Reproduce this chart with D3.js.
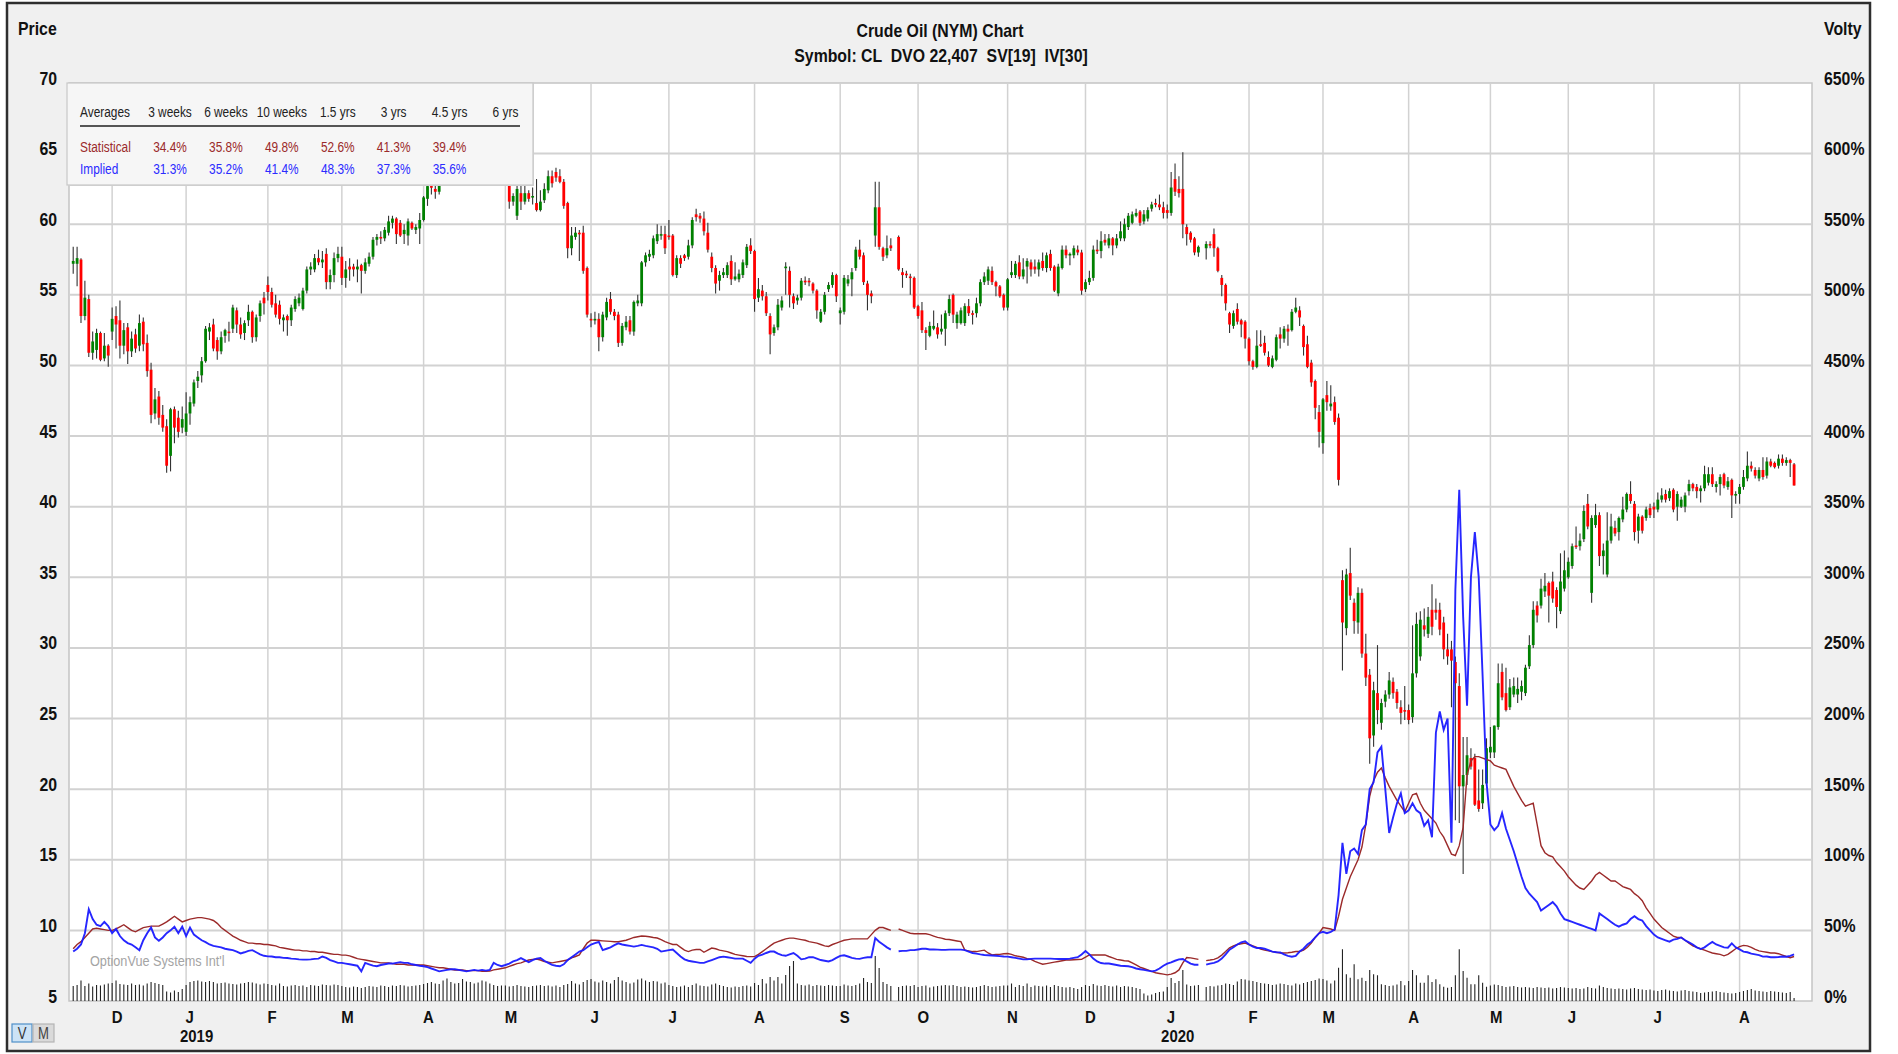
<!DOCTYPE html>
<html>
<head>
<meta charset='utf-8'>
<script src="https://cdnjs.cloudflare.com/ajax/libs/d3/7.8.5/d3.min.js"></script>
<style>
body { margin:0; background:#fff; }
svg text { font-family: "Liberation Sans", Arial, sans-serif; }
</style>
</head>
<body>
<script>

// trading days from 16 Nov 2018 to 21 Aug 2020, one value per day (null = missing day)
var opens = [
	57.2,57.2,57.5,53.5,54.7,50.9,51.1,52.3,50.5,51.4,
	52.4,53.5,53.2,51.4,52.7,51.0,52.2,51.4,53.1,51.6,49.7,46.6,47.8,46.5,45.7,43.6,46.9,46.3,45.6,
	45.3,46.6,47.3,48.9,49.3,50.3,52.4,52.9,51.8,51.0,52.1,52.4,52.6,53.9,52.9,52.3,53.2,53.8,52.0,53.5,54.8,
	55.7,55.2,54.4,54.3,53.2,53.5,53.2,54.0,54.4,54.0,55.3,56.8,56.8,57.6,57.3,57.9,55.9,56.4,57.6,
	57.7,56.2,57.0,57.0,56.8,57.1,56.7,57.2,57.7,58.9,59.1,59.0,59.4,60.1,60.4,60.1,59.3,59.2,60.1,59.6,59.7,
	60.3,61.8,62.7,62.5,62.3,63.4,64.6,64.5,64.8,63.8,64.1,63.6,64.3,64.0,64.3,65.8,66.5,66.1,65.4,63.4,63.7,
	63.9,62.8,61.6,60.6,62.2,61.6,62.2,61.9,61.5,61.0,61.7,62.4,63.4,63.7,63.4,63.0,61.5,58.3,59.1,59.4,59.4,56.9,
	53.3,53.2,53.3,52.0,53.4,54.7,53.8,53.6,51.6,52.7,53.2,52.4,54.4,54.4,57.3,57.7,57.8,58.8,59.2,59.3,
	59.2,59.2,56.4,57.6,57.8,57.7,58.5,60.7,60.6,60.4,59.4,57.7,56.9,56.0,56.4,56.4,57.4,56.1,56.1,56.4,57.1,58.5,
	58.1,54.8,55.3,54.9,53.5,52.3,52.7,54.1,56.9,56.7,54.9,54.6,54.8,56.0,56.0,55.8,55.3,53.1,53.8,55.4,55.7,56.4,
	53.7,53.8,55.8,56.1,56.9,58.2,57.8,55.8,55.1,59.2,61.2,58.3,57.8,58.5,null,59.1,56.6,56.5,56.3,56.2,
	54.2,53.9,52.5,52.1,52.6,52.7,52.4,52.6,53.7,55.0,53.0,53.0,53.0,54.2,53.7,53.7,54.4,55.9,56.0,56.7,55.9,55.6,55.0,
	54.1,56.4,56.4,57.3,56.3,57.0,57.3,57.0,56.8,57.4,56.9,57.9,57.0,55.1,56.9,58.2,57.8,57.8,58.2,58.0,
	55.4,55.9,56.2,58.2,58.1,58.9,58.5,59.0,58.5,59.0,59.0,59.8,60.1,60.6,60.9,60.2,60.4,61.1,61.5,61.4,61.2,
	61.0,60.8,63.2,62.5,62.5,59.8,59.4,59.0,58.0,null,58.3,58.6,59.3,58.3,56.2,55.7,53.7,52.8,54.0,53.2,53.1,
	51.9,50.3,49.9,51.5,51.6,50.6,49.9,50.4,52.2,51.9,52.6,52.5,53.8,53.9,52.8,51.5,50.2,48.9,46.7,
	44.5,47.9,47.1,47.4,46.3,34.8,31.4,35.3,33.2,31.8,33.9,29.6,28.1,23.8,26.8,24.7,26.2,26.7,27.6,26.9,25.8,25.6,
	25.6,25.1,28.2,29.4,31.6,31.0,32.7,32.7,32.7,31.8,29.9,29.9,29.0,27.3,20.2,21.0,22.2,22.2,19.2,19.0,20.4,
	22.6,22.6,24.4,28.3,26.8,25.8,26.7,26.7,26.9,26.8,28.7,30.2,33.0,33.0,34.0,34.6,34.7,34.1,32.6,34.2,
	35.0,35.8,37.25,37.2,37.7,40.2,33.9,38.7,39.4,36.5,35.2,37.6,38.5,38.2,39.1,39.8,40.9,40.2,38.3,39.3,39.2,39.9,
	40.0,39.8,40.5,40.9,40.6,41.2,40.0,40.0,40.0,41.1,41.6,41.4,41.1,41.3,41.7,42.3,41.4,41.6,42.3,41.4,41.9,40.8,
	40.9,41.4,42.0,42.9,42.6,42.0,42.6,42.2,43.2,43.1,42.9,43.4,43.1,43.3,43.0
];
var highs = [
	58.4,58.4,57.6,56.0,55.0,52.4,52.6,52.4,52.3,51.5,
	54.1,54.2,54.6,53.0,53.0,52.4,52.6,53.6,53.4,52.2,50.2,48.4,48.2,47.2,46.2,47.0,47.1,46.8,47.1,
	48.1,47.8,49.0,49.6,50.6,52.8,53.0,53.3,52.0,52.4,52.6,53.1,54.3,54.1,53.4,53.2,54.3,53.9,53.6,54.6,55.2,
	56.3,55.5,55.0,54.6,53.6,53.6,54.3,54.9,55.1,55.5,57.0,57.3,57.9,58.2,58.1,58.3,56.8,58.0,58.4,
	58.4,57.4,57.6,57.2,57.5,57.2,57.6,58.0,59.1,59.3,59.5,59.8,60.6,60.6,60.5,60.3,60.0,60.4,60.2,60.0,60.8,
	62.0,62.9,63.1,62.9,63.6,64.8,64.9,65.0,64.9,64.4,64.3,64.4,64.8,64.5,66.0,66.9,66.7,66.5,65.6,64.1,64.4,
	64.5,63.0,62.2,62.8,62.8,62.7,62.4,62.6,63.2,62.4,62.9,63.8,63.8,64.0,63.9,63.2,61.6,59.8,59.8,59.6,59.9,57.0,
	53.7,53.8,53.7,53.8,54.8,55.2,54.0,53.8,53.0,53.5,53.5,54.6,55.0,57.4,58.0,58.2,59.2,60.0,59.9,59.9,
	60.3,59.3,57.8,57.8,57.9,58.9,60.5,61.1,60.8,60.9,60.1,58.0,57.1,56.7,56.9,57.3,57.8,57.3,56.8,57.5,58.6,59.0,
	58.2,56.2,55.7,55.2,53.7,52.9,54.7,54.9,57.3,57.0,55.1,55.0,56.2,56.3,56.2,55.9,55.4,54.0,55.2,55.9,56.6,56.5,
	54.1,56.4,56.4,56.9,58.4,58.9,58.0,56.0,55.3,63.0,63.0,58.4,59.2,59.0,null,59.2,56.9,56.7,56.5,56.3,
	54.3,54.5,52.7,53.1,53.9,53.0,53.6,53.9,55.0,55.1,53.8,54.1,54.4,54.7,53.9,54.8,56.1,56.6,57.0,57.0,56.0,55.7,55.1,
	56.2,57.4,57.4,57.8,57.6,57.6,57.5,57.5,57.5,58.0,58.0,58.2,57.1,57.2,58.5,58.5,58.0,58.5,58.5,58.2,
	56.1,56.7,58.5,58.9,59.5,59.3,59.3,59.1,59.3,60.2,60.4,60.8,60.9,61.1,61.0,61.0,61.2,61.6,61.8,62.1,61.6,
	61.4,63.7,64.3,63.4,65.1,60.0,59.5,59.1,58.5,null,58.8,58.8,59.7,58.4,56.4,55.8,53.8,53.9,54.4,53.3,53.2,
	52.0,50.4,52.5,52.5,52.1,51.0,50.7,52.2,52.7,52.8,52.9,54.0,54.8,54.2,52.9,52.1,50.4,49.0,47.2,
	47.7,48.9,48.6,47.8,46.6,35.5,35.6,37.1,33.5,34.3,34.2,31.0,28.5,27.6,30.2,26.4,27.0,28.3,27.9,27.1,26.3,27.3,
	26.0,31.6,32.5,32.6,32.8,32.9,34.5,33.5,33.2,32.2,31.0,30.5,29.4,28.2,23.7,23.7,22.9,22.5,21.4,21.4,23.6,
	24.4,24.5,28.9,28.9,28.6,27.8,27.9,27.9,27.7,28.8,30.9,33.3,33.3,34.9,35.3,34.7,35.4,34.3,36.7,36.9,
	36.4,37.4,38.6,38.1,40.1,40.9,39.4,40.2,39.6,37.4,39.6,39.5,39.0,39.3,40.7,41.0,41.8,40.4,39.5,39.4,40.0,40.2,
	40.3,41.0,41.3,41.2,41.3,41.3,41.1,40.7,41.0,41.9,41.7,41.6,41.5,42.9,42.8,42.8,41.8,42.3,42.4,42.1,42.0,41.1,
	41.6,42.6,43.9,43.2,42.8,42.8,43.5,43.5,43.4,43.2,43.7,43.7,43.5,43.4,43.1
];
var lows = [
	56.5,55.6,53.0,53.2,50.6,50.4,50.5,50.3,50.3,49.9,
	51.8,51.2,50.5,50.8,50.1,50.6,50.9,51.0,51.0,49.2,45.9,46.2,45.8,45.3,42.4,42.5,44.5,44.9,45.2,
	45.0,45.8,47.1,48.4,48.8,50.2,51.8,51.0,50.4,50.8,51.6,51.7,52.3,52.3,51.9,51.8,52.8,51.6,51.7,53.1,53.6,
	54.6,54.1,53.4,52.9,52.4,52.1,52.8,53.8,54.2,53.9,55.1,56.4,56.6,57.1,56.9,55.4,55.4,55.9,57.3,
	55.7,55.5,56.0,56.3,55.9,55.1,56.5,57.0,57.5,58.5,58.6,58.8,59.2,59.7,58.6,59.1,58.6,58.5,59.6,59.3,58.6,
	60.2,61.3,62.1,61.8,62.1,63.1,63.9,64.1,63.5,63.5,63.3,63.1,63.6,63.4,64.1,65.4,65.5,64.9,63.1,63.0,63.3,
	62.9,61.1,61.3,60.3,61.0,61.4,61.6,61.4,60.9,60.9,61.5,62.2,62.6,63.0,62.9,61.1,57.6,57.8,58.9,57.4,56.5,53.4,
	52.7,52.9,51.0,51.7,53.2,53.6,53.2,51.3,51.4,52.5,52.2,52.1,54.2,54.2,57.0,57.4,57.6,58.6,58.9,57.9,
	58.9,56.3,56.2,56.9,57.4,57.5,58.3,60.2,60.1,59.2,58.0,56.6,55.1,55.3,56.2,56.2,55.7,56.0,55.9,56.2,56.9,57.9,
	53.8,54.5,54.6,53.5,50.8,52.1,52.5,53.9,55.0,54.1,54.0,54.3,54.6,55.7,55.6,55.1,53.3,53.0,53.6,55.2,55.5,54.5,
	52.9,53.6,55.6,54.9,56.7,57.5,55.7,53.9,54.4,58.4,58.2,57.4,57.6,58.1,null,56.7,55.5,56.2,55.0,54.0,
	53.3,52.3,51.1,52.0,52.5,51.9,52.2,51.4,53.5,53.0,52.6,52.9,52.8,53.5,52.9,53.4,54.2,55.7,55.7,55.7,54.9,54.8,53.9,
	53.9,56.2,56.2,56.1,56.1,55.8,56.3,56.5,56.3,56.7,56.6,56.7,55.2,54.9,56.8,57.6,57.1,57.6,57.8,55.0,
	55.2,55.7,56.0,57.9,57.6,58.5,58.3,57.8,58.3,58.8,58.8,59.6,60.0,60.5,59.9,60.0,60.2,60.9,61.2,61.0,60.4,
	60.4,60.6,62.0,61.9,59.0,58.5,58.7,57.8,57.7,null,57.5,58.3,57.7,56.6,54.9,53.9,52.3,52.6,52.9,52.0,51.2,
	50.0,49.7,49.8,51.3,50.7,49.9,49.8,50.3,51.2,51.6,51.4,52.4,53.7,52.8,50.7,49.8,48.5,46.2,44.2,
	43.75,46.8,46.8,45.8,41.5,28.4,30.9,33.4,31.0,31.0,29.3,27.3,21.8,23.0,24.6,24.2,25.8,26.4,26.4,25.7,24.6,24.9,
	24.6,24.7,27.9,29.1,30.8,30.7,30.9,32.0,30.9,29.2,28.8,25.8,17.8,17.6,14.0,20.3,21.4,18.8,18.4,18.6,20.2,
	22.2,22.2,24.2,26.3,25.5,25.6,26.5,26.1,26.3,26.6,28.5,30.0,31.8,32.8,33.6,31.8,33.2,31.4,32.4,34.0,
	34.9,35.6,37.0,36.9,37.5,38.4,33.2,38.5,35.8,35.2,35.0,37.4,37.9,37.6,38.9,39.6,40.2,37.6,37.4,38.1,39.0,39.2,
	39.2,39.6,40.3,40.3,40.4,39.6,39.0,39.9,39.6,40.8,41.1,40.6,40.3,41.1,41.5,41.4,41.0,40.8,41.3,41.2,39.2,40.2,
	40.2,41.2,41.8,42.5,42.0,41.8,41.9,42.0,42.8,42.7,42.7,42.9,42.9,42.1,41.5
];
var closes = [
	57.4,57.6,53.5,54.8,50.9,51.7,52.3,50.4,51.4,50.7,
	53.3,52.9,51.4,52.5,51.0,51.9,51.2,53.0,51.5,49.6,46.5,47.6,46.3,45.6,42.9,46.9,45.6,45.3,46.2,
	46.6,47.4,48.8,49.2,50.3,52.6,52.7,51.2,51.0,52.0,52.5,52.3,54.1,52.9,52.2,53.0,53.8,52.0,53.4,54.4,54.4,
	55.2,54.3,53.6,53.3,53.4,53.2,54.1,54.7,54.8,55.3,56.8,57.0,57.6,57.3,57.5,55.9,56.4,57.6,57.9,
	56.2,56.8,56.8,56.8,57.0,56.7,57.3,57.7,58.9,59.1,59.0,59.6,60.2,60.4,59.3,59.2,59.6,60.2,59.7,59.8,60.3,
	61.9,62.7,62.6,62.3,63.4,64.6,64.5,64.8,63.8,64.1,63.6,64.3,64.0,64.2,65.8,66.5,66.1,65.4,63.5,63.7,64.1,
	63.3,61.6,62.0,62.5,61.6,62.2,61.8,62.0,61.0,61.6,62.5,63.4,62.9,63.3,63.0,61.3,58.3,59.2,59.4,59.3,56.7,53.6,
	53.2,53.3,52.0,53.6,54.5,53.8,53.5,51.6,52.8,53.1,52.4,54.5,54.6,57.3,57.8,57.9,59.0,59.3,59.3,58.3,
	59.1,56.4,57.6,57.2,57.6,58.5,60.3,60.5,60.4,59.5,58.2,56.9,55.8,56.4,56.6,57.1,56.1,56.3,56.5,57.3,58.4,58.1,
	54.7,55.4,54.9,53.7,52.2,52.7,54.3,54.6,57.0,55.0,54.4,54.8,56.0,55.9,55.9,55.3,53.9,53.8,55.0,55.7,56.4,54.9,
	53.9,56.2,56.1,56.6,58.2,57.7,55.9,55.0,54.9,61.2,58.4,57.7,58.3,58.3,null,56.8,56.4,56.4,56.2,54.1,
	53.5,52.5,52.3,52.8,52.8,52.2,52.6,53.7,54.7,53.6,53.6,53.9,54.2,53.7,53.6,54.4,55.9,56.3,56.8,55.9,55.6,54.9,54.1,
	56.1,56.6,57.2,56.3,56.8,57.4,56.8,56.8,57.3,56.9,57.8,56.9,55.3,57.0,58.2,57.8,57.9,58.3,58.0,55.3,
	55.9,56.2,58.2,58.1,58.8,58.7,59.0,58.5,59.0,59.5,60.0,60.6,60.7,60.8,60.1,60.7,61.0,61.4,61.4,61.2,60.8,
	60.8,62.6,62.3,62.2,60.0,59.3,58.9,58.0,58.4,null,58.6,58.5,58.3,56.7,55.7,54.4,52.9,53.7,53.1,52.9,51.9,
	50.3,49.9,51.4,51.4,50.9,50.0,50.5,52.0,51.9,52.6,52.4,53.8,54.1,53.4,51.3,49.9,48.8,47.0,45.3,
	47.6,47.4,47.3,46.0,41.9,31.8,35.2,33.7,31.9,33.9,29.6,27.9,23.6,27.0,25.6,26.1,26.7,27.7,26.8,26.1,25.4,25.5,
	24.9,28.2,31.7,32.0,31.3,32.2,31.5,32.5,31.3,29.9,29.4,29.1,27.5,20.2,21.0,22.4,21.6,18.9,18.6,20.3,22.9,
	23.0,24.5,27.5,26.5,25.6,27.2,27.3,27.1,27.3,28.6,30.2,32.7,32.3,34.2,34.4,33.7,33.5,32.9,34.7,35.5,
	36.1,37.2,37.15,37.6,39.7,38.6,39.2,39.4,36.5,36.9,37.6,38.6,38.1,39.2,39.8,40.9,40.4,38.2,39.3,38.3,39.8,39.4,
	39.8,40.5,40.8,40.5,41.1,39.8,40.9,40.5,40.8,41.6,41.3,41.1,41.3,42.3,42.3,41.6,41.6,42.1,41.5,41.8,40.8,40.9,
	41.4,42.1,42.9,42.7,42.2,42.6,42.1,43.2,42.9,42.8,43.4,43.1,43.3,43.1,41.5
];
// daily volume, thousands of contracts
var volumes = [
	600,640,820,600,700,580,640,620,660,700,
	720,820,680,660,640,700,640,660,620,700,760,720,680,640,380,340,420,360,480,
	640,760,800,820,780,760,800,760,700,720,740,700,680,660,700,720,760,740,700,660,700,
	680,640,620,700,600,580,620,640,600,620,560,640,620,600,660,640,620,660,640,
	600,560,540,580,560,520,560,600,580,560,620,600,560,620,600,640,620,580,600,620,640,
	680,720,760,700,680,820,900,760,700,720,880,780,760,700,740,820,780,700,640,600,620,
	620,580,600,640,600,580,560,600,620,640,600,620,580,620,560,640,680,800,700,660,760,840,
	880,780,740,820,760,700,840,960,820,760,700,740,860,900,820,760,800,780,700,740,
	640,600,560,580,620,560,640,700,620,600,580,660,700,640,600,560,540,580,560,600,620,580,
	720,640,880,700,960,820,960,700,1040,1400,1600,700,640,620,660,600,640,620,600,640,620,600,
	600,660,620,600,640,700,920,760,720,1800,1320,760,680,600,null,560,600,620,600,640,
	560,600,620,540,580,600,620,640,620,640,600,560,580,560,540,560,600,640,600,560,580,600,620,
	620,700,560,640,600,700,560,620,600,580,620,560,640,600,560,540,560,520,480,560,
	640,600,680,620,600,640,600,580,620,560,600,580,560,520,480,300,220,260,320,360,380,
	560,920,720,800,1240,660,600,620,640,null,560,600,580,620,640,700,680,640,780,880,860,
	820,800,760,720,700,680,640,660,700,680,640,620,700,660,720,760,800,840,900,
	880,820,700,820,1330,2070,1070,930,1470,870,930,800,1240,1070,1030,670,640,600,620,660,800,630,
	800,1240,1030,730,730,1030,760,870,670,570,530,560,1030,2070,1200,930,670,670,1030,730,570,
	620,660,640,600,560,580,600,560,540,560,540,520,560,540,520,540,500,520,560,540,
	520,500,520,480,500,560,520,500,620,560,520,500,480,500,480,460,500,520,480,460,440,460,
	420,400,440,460,420,400,380,420,440,400,380,360,320,340,360,380,400,360,340,320,300,320,
	360,400,440,480,420,400,380,360,400,380,360,340,320,360,120
];
// statistical volatility, percent
var statVol = [
	37,40,42,45,48,51,51.5,51,50.5,50,
	50,51,52.5,54,52,50,49,50.5,52,52.5,53,53,53,54.5,56,58,60,58,56,
	57,58,58.5,59,59,58.5,58,57,55,52,50,48,46,44.5,43,42,41,41,40.5,40.5,40,
	40,39.5,39,38,37.5,37,36.5,36,36,35.5,35.5,35,35,34.5,34.5,34,33.5,33,33,
	32.5,32.5,32,31,30,29.5,29,28.5,28,27.5,27,27,27,26.5,26,26,26,25.5,25.5,25.5,25.5,
	25.5,25,24.5,24,23.5,23.5,23,22.5,22,22,22,21.5,21.5,21.5,21.5,21,21,21.2,22,22.5,23,
	23.5,24.5,25.5,26.5,27,28,29,29.5,29.7,29,28,27.5,27,27.5,28,28.5,29,30.5,31.5,32.6,37,41,
	43,43,42.8,42.6,42.4,42.2,42,42,42.5,43,44,45,45.5,46,45.8,45.5,45,44.6,43.5,42,
	41,40,40,38,36,35,36,36.5,36.5,34.5,36,37.5,37,36,35.5,35,34,33,32.5,32,31.5,31.4,
	31.4,33,35,37,39,41,42,43,44,44.5,44.5,44,43.5,43,42,41.5,41,40,39,38.6,40,41,
	42,43,43.5,44,44,44,44,44,47,50,52,52,51,50,null,51,50,49,48,47.6,
	47.6,47.6,47.6,47,46,45,44.5,43.7,43.5,43,42.5,42,36,35.5,35,35,35.5,36,34,32.6,33,33,33.5,
	33.6,33,32,31.5,31,30,29.5,28,27,26,26.5,27,27.5,28,28.5,29,29,29.2,29.4,29.5,
	31,32.6,32.6,32.6,32.6,32.6,31.5,30.5,29.5,29,28.5,28.3,27,25.5,24,23,22,21,20,19.5,19,
	18.5,19,20,22,27,30.8,30.5,30,29.5,null,28.6,29,29.5,30.5,32.5,35,37.7,39,40,40.5,41,
	40,39,38,36.8,36,35.5,35,34.5,34,34,34.2,34.5,35,35,36,38,41,45,48,
	52,51.5,51,50,60,72,80,88,94,100,109,125,145,156,162,165,158,152,147,142,138,134,
	140,146,147,140,135,132,129,126,120,116,110,104,103,110,123,160,170,173,173,172,171,
	170,167,166,165,164,158,152,147,142,138,139,140,125,110,105,103,102,98,95,92,
	88,85,82,80,79,82,85,89,91,89,87,85,85,83,81,80,79,76,74,71,66,62,
	58,55,52,50,48,46,45,45,43,41,39,38,37,36,35,34,33.5,33,32,33,35,37,
	38.5,39.4,39,38,36.5,35.5,35,34.5,34,34,33.5,32.5,31.5,30.6,31.5
];
// implied volatility, percent
var implVol = [
	35,37,40,48,65,58,54,53,56,53,
	48,51,46,43,41,40,38,36,43,48,52,45,42.6,45,48,50,52.6,48,52.6,
	46,52,47,45,43,41.7,40,39,38.5,38,37,36.5,36,35,33.7,34.5,35.5,36,34.5,33,32,
	31.6,31.5,31,31,30.5,30.4,30,29.8,29.5,29.3,29.3,29.5,29.8,30,31.5,30.5,29,28,27,
	27,26.5,26,25.5,25,21,27,26,25,24.6,25.5,26,26.5,26.5,27,27.5,27,27,26,25.5,25,
	24.6,24,23,22,21,21.5,22,22.5,22.5,22,21.5,21,21.5,22,21.5,22,21.5,22,27,25.5,24.6,
	25.5,26.5,28,29,30.4,29,27.5,29,30,30.4,28.5,27,25.6,25,24.6,26,29,31,33,35,36,38,
	40,41,41.8,36,37,38,39.5,40.8,40,39.5,39,38.5,39,39.7,39,38.5,38,37,35,35.5,
	36,36.4,34,31.5,29.5,28.5,28,27.5,27,27,28,29,30,31,31.4,31,30.5,30,30,30,28.5,27,
	30,32,32.8,34,35,35,33.5,32.5,32,33,34,32,29.5,30,31,31,30,29,28.5,28,29,30.5,
	32,32.4,31.5,30.5,30,29.8,30.5,31,31,44.6,42,40,38,36.4,null,35.2,35.5,35.5,36,36,
	36.5,37,37,36.5,36.5,36.4,36.2,36.2,36.4,36.4,36.4,36.4,36,35,34,33.5,33,32.6,32.4,32.2,32,31.8,31.5,
	31.4,31,30.5,30,29.5,29.5,29.8,30,30,30,30,30,29.8,29.7,29.7,29.7,30,30.5,31,33,
	35.4,33,30,28,26.9,26.5,26.5,26,25.5,25,24.8,24.6,24,23,22.5,22,21.5,21,21.5,23,25,
	26.5,27.4,28.5,29.5,29.7,28,26.5,25.7,25.7,null,25.7,26.5,27,28,30,33,36.3,38,40,41.5,42.3,
	40,38.5,37.5,37.5,37,36,35,34.5,34.4,33,32,31.4,32,35,37,40,42,45,48,
	49,48,49,50.6,75,112,90,106,108,104,121,125,150,155,176,180,150,119,130,140,147,133,
	135,140,135,133,124,128,116,190,205,192,200,112,291,362,272,209,300,332,300,230,155,
	125,121,124,133,122,114,106,97,88,80,76,73,70,64,66,68,70,67,62,58,
	57,56,55,54,53,52,51,50,62,60,58,56,54,52.6,54,55,58,60,58,57,53,50,
	47,45,44,43,42,43.5,44,45,43,41.5,40,38,36.8,38,40,41.8,40,39,38,37.7,40.8,38,
	36.5,35,34.5,33.5,33,32.5,31.4,31.5,31,31,31.2,31.5,31.3,32,33
];

// first trading day of each month (index into the daily arrays)
var monthStarts = [10, 29, 50, 69, 90, 111, 133, 153, 175, 197, 217, 240, 260, 281, 302, 321, 343, 364, 384, 406, 428];
var monthLabels = ['D','J','F','M','A','M','J','J','A','S','O','N','D','J','F','M','A','M','J','J','A'];
var yearStarts = [29, 281];
var yearLabels = ['2019', '2020'];

var priceTicks = [5,10,15,20,25,30,35,40,45,50,55,60,65,70];
var voltyTicks = [0,50,100,150,200,250,300,350,400,450,500,550,600,650];

var avgPeriods = ['3 weeks','6 weeks','10 weeks','1.5 yrs','3 yrs','4.5 yrs','6 yrs'];
var statAvg = ['34.4%','35.8%','49.8%','52.6%','41.3%','39.4%'];
var implAvg = ['31.3%','35.2%','41.4%','48.3%','37.3%','35.6%'];

// ---------------------------------------------------------------

var width = 1898, height = 1054;
var plot = {left: 69, right: 1812, top: 83, bottom: 1001};
var upColor = '#008000', downColor = '#ff0000',
	statColor = '#9b2a2a', implColor = '#1a1aff', gridColor = '#d2d2d2';
// no Arial Narrow here, so squeeze Liberation Sans
var narrowScale = 0.82, narrowBoldScale = 0.88;

var svg = d3.select('body').append('svg').attr('width', width).attr('height', height);

var x = d3.scaleLinear().domain([-1.08, 446.6]).range([plot.left, plot.right]);
var y = d3.scaleLinear().domain([5, 70]).range([plot.bottom, plot.top]);
var yv = d3.scaleLinear().domain([0, 650]).range([plot.bottom, plot.top]);
var hv = d3.scaleLinear().domain([0, 2600]).range([0, 65]);

// panel
svg.append('rect').attr('x', 7).attr('y', 3).attr('width', 1863).attr('height', 1048)
	.attr('fill', '#f0f0f0').attr('stroke', '#2e2e2e').attr('stroke-width', 2.5);
svg.append('rect').attr('x', plot.left).attr('y', plot.top)
	.attr('width', plot.right - plot.left).attr('height', plot.bottom - plot.top)
	.attr('fill', '#fff').attr('stroke', '#c4c4c4').attr('stroke-width', 1.5);

// grid
var grid = svg.append('g');
grid.selectAll('.hg').data(priceTicks.slice(1, -1)).enter().append('line')
	.attr('x1', plot.left).attr('x2', plot.right)
	.attr('y1', function (d) { return y(d); }).attr('y2', function (d) { return y(d); })
	.attr('stroke', gridColor).attr('stroke-width', 2);
grid.selectAll('.vg').data(monthStarts).enter().append('line')
	.attr('x1', function (d) { return x(d); }).attr('x2', function (d) { return x(d); })
	.attr('y1', plot.top).attr('y2', plot.bottom)
	.attr('stroke', gridColor).attr('stroke-width', 1.5);

// titles
var title = svg.append('g').attr('font-weight', 'bold').attr('fill', '#111').attr('font-size', 18);
title.append('text').attr('x', 940).attr('y', 37).attr('text-anchor', 'middle').text('Crude Oil (NYM) Chart');
title.append('text').attr('x', 941).attr('y', 62).attr('text-anchor', 'middle').attr('xml:space', 'preserve')
	.text('Symbol: CL  DVO 22,407  SV[19]  IV[30]');
title.append('text').attr('x', 18).attr('y', 35).text('Price');
title.append('text').attr('x', 1824).attr('y', 35).text('Volty');

// axes
var leftAxis = svg.append('g').attr('transform', 'translate(57,0)')
	.call(d3.axisLeft(y).tickValues(priceTicks).tickSize(0).tickPadding(0));
var rightAxis = svg.append('g').attr('transform', 'translate(1824,0)')
	.call(d3.axisRight(yv).tickValues(voltyTicks).tickSize(0).tickPadding(0)
		.tickFormat(function (d) { return d + '%'; }));
var monthAxis = svg.append('g').attr('transform', 'translate(0,1023)')
	.call(d3.axisBottom(x).tickValues(monthStarts).tickSize(0).tickPadding(0)
		.tickFormat(function (d, i) { return monthLabels[i]; }));
var yearAxis = svg.append('g').attr('transform', 'translate(10,1042)')
	.call(d3.axisBottom(x).tickValues(yearStarts).tickSize(0).tickPadding(0)
		.tickFormat(function (d, i) { return yearLabels[i]; }));
[leftAxis, rightAxis, monthAxis, yearAxis].forEach(function (a) {
	a.select('.domain').remove();
	a.attr('font-family', null);
	a.selectAll('text').attr('dy', 0).attr('y', 0).attr('x', 0).attr('fill', '#111')
		.attr('font-size', 18).attr('font-weight', 'bold');
});
leftAxis.selectAll('text').attr('y', 1);
rightAxis.selectAll('text').attr('y', 1);
monthAxis.selectAll('text').attr('text-anchor', 'start').attr('x', -1).attr('font-size', 17);
yearAxis.selectAll('text').attr('font-size', 17);

// watermark
svg.append('text').attr('x', 90).attr('y', 966).attr('font-size', 15.5).attr('fill', '#a4a4a4')
	.text("OptionVue Systems Int'l");

// volume bars
var days = d3.range(closes.length);
svg.append('g').selectAll('line').data(days.filter(function (i) { return volumes[i] != null; }))
	.enter().append('line')
	.attr('x1', function (i) { return x(i); }).attr('x2', function (i) { return x(i); })
	.attr('y1', plot.bottom).attr('y2', function (i) { return plot.bottom - hv(volumes[i]); })
	.attr('stroke', '#222').attr('stroke-width', 1.1);

// candles
var candleDays = days.filter(function (i) { return closes[i] != null; });
var candles = svg.append('g').selectAll('g').data(candleDays).enter().append('g');
candles.append('line')
	.attr('x1', function (i) { return x(i); }).attr('x2', function (i) { return x(i); })
	.attr('y1', function (i) { return y(Math.max(highs[i], opens[i], closes[i])); })
	.attr('y2', function (i) { return y(Math.min(lows[i], opens[i], closes[i])); })
	.attr('stroke', '#333').attr('stroke-width', 1.1);
candles.append('rect')
	.attr('x', function (i) { return x(i) - 1.4; }).attr('width', 2.8)
	.attr('y', function (i) { return y(Math.max(opens[i], closes[i])); })
	.attr('height', function (i) { return Math.max(1.6, Math.abs(y(opens[i]) - y(closes[i]))); })
	.attr('fill', function (i) { return closes[i] >= opens[i] ? upColor : downColor; });

// volatility lines
var volLine = function (series) {
	return d3.line().defined(function (i) { return series[i] != null; })
		.x(function (i) { return x(i); }).y(function (i) { return yv(series[i]); });
};
svg.append('path').datum(days).attr('d', volLine(statVol))
	.attr('fill', 'none').attr('stroke', statColor).attr('stroke-width', 1.4);
svg.append('path').datum(days).attr('d', volLine(implVol))
	.attr('fill', 'none').attr('stroke', implColor).attr('stroke-width', 1.9).attr('opacity', 0.95);

// averages box
var legend = svg.append('g').attr('font-size', 14.5);
legend.append('rect').attr('x', 68).attr('y', 84).attr('width', 466).attr('height', 102)
	.attr('fill', '#d8d8d8');
legend.append('rect').attr('x', 67).attr('y', 83).attr('width', 466).attr('height', 102)
	.attr('fill', '#f6f6f6').attr('stroke', '#c8c8c8').attr('stroke-width', 1.2);
var col = d3.scalePoint().domain(avgPeriods).range([170, 505.5]);
legend.append('text').attr('x', 80).attr('y', 117).attr('fill', '#222').text('Averages');
legend.selectAll('.hd').data(avgPeriods).enter().append('text')
	.attr('x', function (d) { return col(d); }).attr('y', 117).attr('text-anchor', 'middle')
	.attr('fill', '#222').text(function (d) { return d; });
legend.append('line').attr('x1', 80).attr('x2', 520).attr('y1', 126).attr('y2', 126)
	.attr('stroke', '#555').attr('stroke-width', 2);
legend.append('text').attr('x', 80).attr('y', 152).attr('fill', statColor).text('Statistical');
legend.append('text').attr('x', 80).attr('y', 174).attr('fill', '#2b2bff').text('Implied');
legend.selectAll('.sv').data(statAvg).enter().append('text')
	.attr('x', function (d, i) { return col(avgPeriods[i]); }).attr('y', 152).attr('text-anchor', 'middle')
	.attr('fill', statColor).text(function (d) { return d; });
legend.selectAll('.iv').data(implAvg).enter().append('text')
	.attr('x', function (d, i) { return col(avgPeriods[i]); }).attr('y', 174).attr('text-anchor', 'middle')
	.attr('fill', '#2b2bff').text(function (d) { return d; });

// V / M buttons
var btn = svg.append('g').attr('font-size', 16);
btn.append('rect').attr('x', 12).attr('y', 1024).attr('width', 20).attr('height', 18)
	.attr('fill', '#cce3f6').attr('stroke', '#4f8fc9').attr('stroke-width', 1.2);
btn.append('rect').attr('x', 33).attr('y', 1024).attr('width', 21).attr('height', 18)
	.attr('fill', '#dadada').attr('stroke', '#b5b5b5').attr('stroke-width', 1.2);
btn.append('text').attr('x', 22).attr('y', 1039).attr('text-anchor', 'middle').attr('fill', '#333').text('V');
btn.append('text').attr('x', 43.5).attr('y', 1039).attr('text-anchor', 'middle').attr('fill', '#444').text('M');

// squeeze every label horizontally around its own anchor
svg.selectAll('text').each(function () {
	var t = d3.select(this);
	var tx = +t.attr('x') || 0, ty = +t.attr('y') || 0;
	var bold = window.getComputedStyle(this).fontWeight >= 600;
	t.attr('x', 0).attr('y', 0)
		.attr('transform', 'translate(' + tx + ',' + ty + ') scale(' + (bold ? narrowBoldScale : narrowScale) + ',1)');
});

</script>
</body>
</html>
